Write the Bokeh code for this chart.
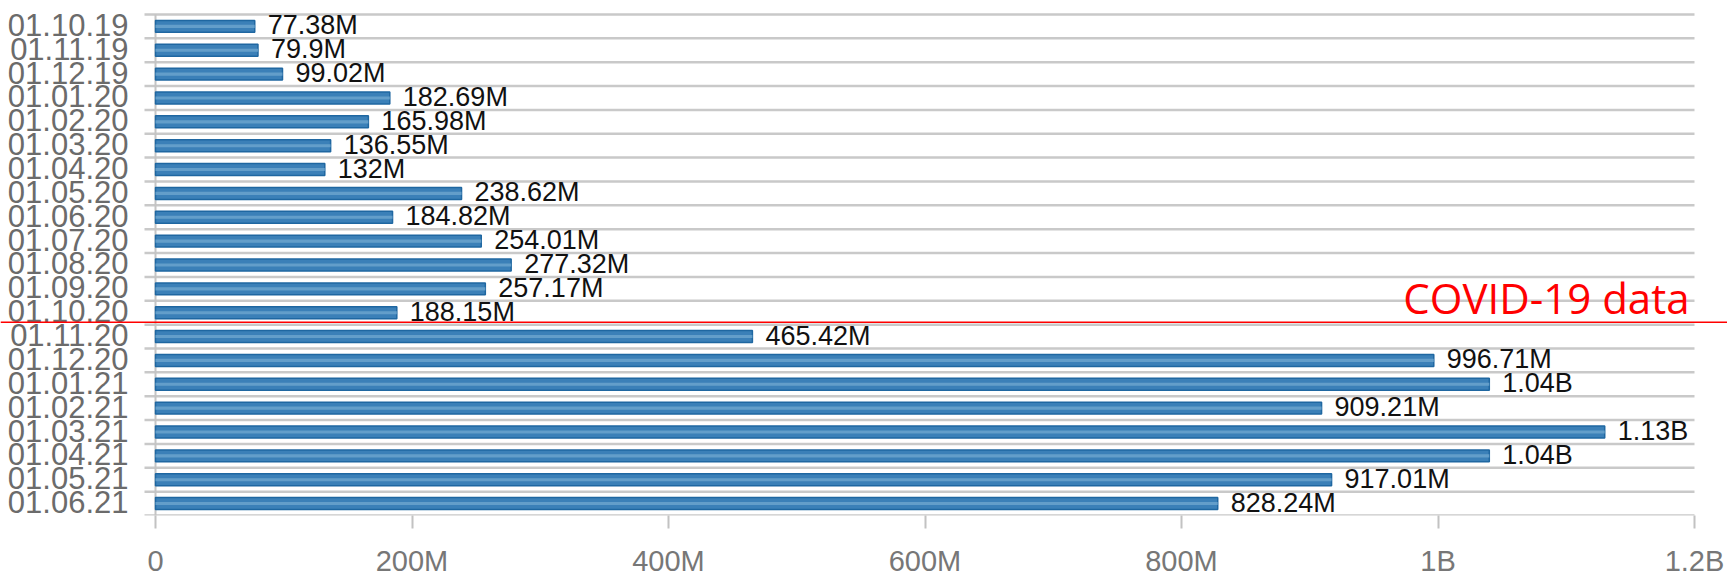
from bokeh.plotting import figure
from bokeh.models import Range1d, FixedTicker, Span, ColumnDataSource
from bokeh.core.properties import value
from bokeh.embed import file_html
from bokeh.resources import INLINE

months = ["01.10.19", "01.11.19", "01.12.19", "01.01.20", "01.02.20", "01.03.20",
          "01.04.20", "01.05.20", "01.06.20", "01.07.20", "01.08.20", "01.09.20",
          "01.10.20", "01.11.20", "01.12.20", "01.01.21", "01.02.21", "01.03.21",
          "01.04.21", "01.05.21", "01.06.21"]
downloads = [77.38e6, 79.9e6, 99.02e6, 182.69e6, 165.98e6, 136.55e6,
             132e6, 238.62e6, 184.82e6, 254.01e6, 277.32e6, 257.17e6,
             188.15e6, 465.42e6, 996.71e6, 1.04e9, 909.21e6, 1.13e9,
             1.04e9, 917.01e6, 828.24e6]
value_labels = ["77.38M", "79.9M", "99.02M", "182.69M", "165.98M", "136.55M",
                "132M", "238.62M", "184.82M", "254.01M", "277.32M", "257.17M",
                "188.15M", "465.42M", "996.71M", "1.04B", "909.21M", "1.13B",
                "1.04B", "917.01M", "828.24M"]
x_ticks = [0, 200e6, 400e6, 600e6, 800e6, 1000e6, 1200e6]
x_tick_labels = ["0", "200M", "400M", "600M", "800M", "1B", "1.2B"]
covid_label = "COVID-19 data"
covid_start = 13  # first month counted as COVID-19 data (01.11.20)

n = len(months)
x_max = x_ticks[-1]
grid_left = -8.577e6          # grid lines start a little left of zero
divider_y = covid_start - 0.1
centers = [i + 0.5 for i in range(n)]
label_y = [i + 0.4375 for i in range(n)]
src = ColumnDataSource(dict(y=centers, v=downloads, label=value_labels))
lab_src = ColumnDataSource(dict(x=[grid_left] * n, y=label_y, text=months))
bounds = list(range(n + 1))
grid_src = ColumnDataSource(dict(x0=[grid_left] * (n + 1), x1=[x_max] * (n + 1), y=bounds))

W, H = 1727, 579
# the frame spans the full width so the red divider can run across the whole picture
p = figure(width=W, height=H, output_backend="svg", toolbar_location=None,
           x_range=Range1d(-120.86e6, 1225.73e6), y_range=Range1d(n, -0.5857),
           y_axis_location=None,
           min_border_left=0, min_border_right=0, min_border_top=0, min_border_bottom=63)
p.outline_line_color = None
p.background_fill_color = "white"
p.border_fill_color = "white"
p.xgrid.visible = False
p.ygrid.visible = False

# horizontal grid lines at band boundaries
p.segment(x0="x0", x1="x1", y0="y", y1="y", source=grid_src,
          line_color="#c9c9c9", line_width=2.5)
# vertical line at zero
p.segment(x0=[0], x1=[0], y0=[0], y1=[n], line_color="#c4c4c4", line_width=2)

# x axis
p.xaxis.ticker = FixedTicker(ticks=x_ticks)
p.xaxis.major_label_overrides = {t: s for t, s in zip(x_ticks, x_tick_labels)}
p.xaxis.axis_line_color = None
p.xaxis.major_tick_line_color = "#c2c2c2"
p.xaxis.major_tick_line_width = 2
p.xaxis.major_tick_out = 13
p.xaxis.major_tick_in = 0
p.xaxis.minor_tick_line_color = None
p.xaxis.minor_tick_out = 0
p.xaxis.major_label_standoff = 16
p.xaxis.major_label_text_font = "Liberation Sans"
p.xaxis.major_label_text_font_size = "29px"
p.xaxis.major_label_text_color = "#777777"

# month labels
p.text(x="x", y="y", text="text", source=lab_src, x_offset=-16,
       text_align="right", text_baseline="middle",
       text_font=value("Liberation Sans"), text_font_size="31px", text_color="#6b6b6b")

# bars
p.hbar(y="y", left=0, right="v", height=0.5, source=src,
       fill_color="#3b80b8", line_color="#1f67a1", line_width=1.5)
p.hbar(y="y", left=0, right="v", height=0.13, source=src,
       fill_color="#6ba3cd", line_color=None, fill_alpha=0.85)

# value labels
p.text(x="v", y="y", text="label", source=src, x_offset=13, y_offset=-1,
       text_baseline="middle", text_align="left",
       text_font=value("Liberation Sans"), text_font_size="27px", text_color="#111111")

# red divider and its caption
p.add_layout(Span(location=divider_y, dimension="width",
                  line_color="#ff0000", line_width=1.5, level="overlay"))
p.text(x=[x_max], y=[divider_y], text=[covid_label], x_offset=-5, y_offset=-25,
       text_align="right", text_baseline="alphabetic", text_color="#ff0000",
       text_font=value("Open Sans"), text_font_size="42px")

open("out.html", "w").write(file_html(p, INLINE))
